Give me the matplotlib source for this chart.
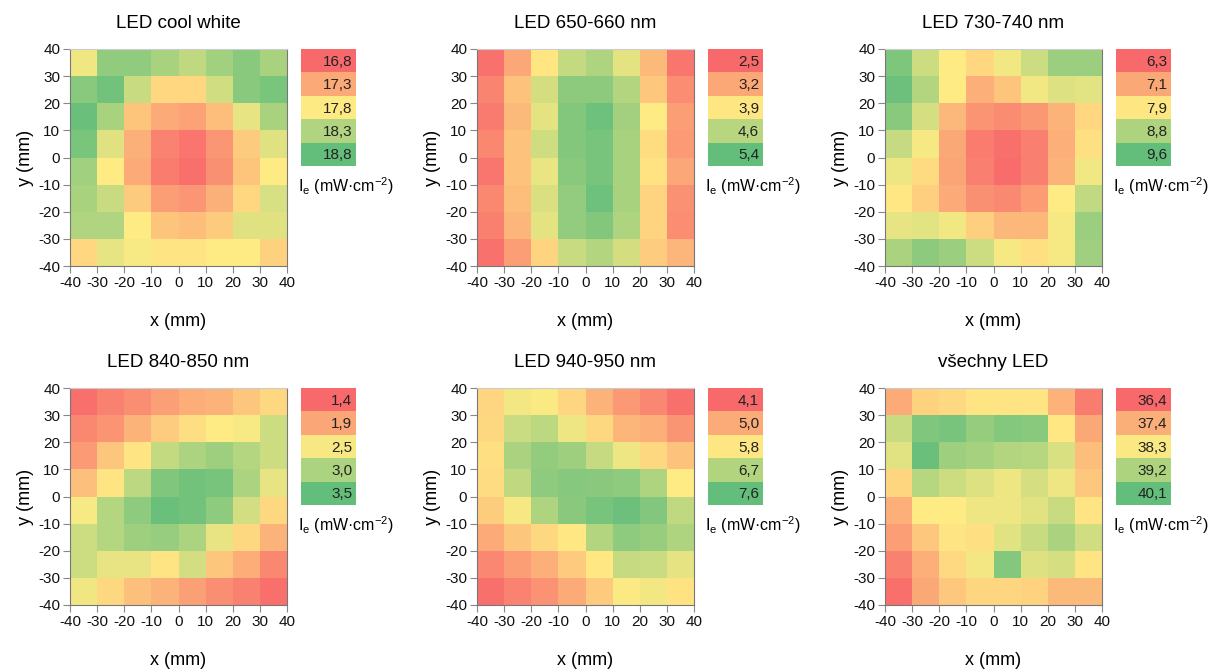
import numpy as np
import matplotlib.pyplot as plt
from matplotlib.colors import LinearSegmentedColormap, Normalize

plt.rcParams['font.family'] = ['Liberation Sans', 'DejaVu Sans']
plt.rcParams['mathtext.fontset'] = 'custom'
plt.rcParams['mathtext.rm'] = 'Liberation Sans'
plt.rcParams['mathtext.default'] = 'regular'
plt.rcParams['axes.unicode_minus'] = False

# cell edges (mm) and tick positions
edges = np.arange(-40, 41, 10)
ticks = np.arange(-40, 41, 10)

titles = ['LED cool white', 'LED 650-660 nm', 'LED 730-740 nm',
          'LED 840-850 nm', 'LED 940-950 nm', 'všechny LED']

# irradiance maps, rows from y = 40 (top) down to y = -40, columns x = -40 .. 40
cool_white = [
    [17.90, 18.50, 18.50, 18.35, 18.20, 18.40, 18.55, 18.35],
    [18.55, 18.70, 18.15, 17.65, 17.65, 18.10, 18.55, 18.65],
    [18.75, 18.35, 17.50, 17.30, 17.25, 17.45, 17.95, 18.35],
    [18.65, 18.00, 17.35, 17.00, 16.90, 17.15, 17.55, 18.00],
    [18.40, 17.80, 17.30, 16.95, 16.85, 17.10, 17.50, 17.80],
    [18.35, 18.15, 17.55, 17.20, 17.15, 17.35, 17.65, 18.05],
    [18.30, 18.30, 17.80, 17.50, 17.45, 17.55, 18.00, 18.00],
    [17.65, 17.95, 17.85, 17.75, 17.75, 17.80, 17.80, 17.60],
]
red_650 = [
    [2.60, 3.20, 3.90, 4.50, 4.70, 4.20, 3.40, 2.65],
    [2.80, 3.50, 4.35, 5.00, 5.00, 4.65, 3.55, 2.90],
    [2.70, 3.40, 4.20, 5.10, 5.30, 4.80, 3.95, 3.10],
    [2.85, 3.50, 4.40, 5.10, 5.20, 4.75, 3.80, 3.05],
    [2.65, 3.50, 4.15, 5.05, 5.20, 4.75, 3.85, 3.20],
    [2.85, 3.45, 4.30, 4.95, 5.30, 4.75, 3.70, 2.95],
    [2.75, 3.35, 4.20, 4.95, 5.10, 4.70, 3.70, 2.90],
    [2.60, 3.10, 3.70, 4.45, 4.65, 4.35, 3.60, 3.35],
]
far_red_730 = [
    [9.30, 8.50, 7.95, 7.70, 8.10, 8.50, 9.00, 9.00],
    [9.50, 8.75, 7.95, 7.20, 7.45, 8.10, 8.30, 8.25],
    [9.20, 8.40, 7.30, 6.85, 6.75, 6.90, 7.25, 7.70],
    [8.55, 8.05, 7.10, 6.55, 6.40, 6.60, 7.20, 7.80],
    [8.15, 7.75, 7.05, 6.60, 6.35, 6.60, 7.25, 8.10],
    [7.90, 7.60, 7.15, 6.80, 6.70, 6.95, 7.95, 8.60],
    [8.20, 8.25, 8.10, 7.60, 7.30, 7.30, 8.05, 9.00],
    [8.85, 9.15, 9.00, 8.50, 8.05, 7.80, 8.05, 8.95],
]
ir_840 = [
    [1.45, 1.60, 1.70, 1.85, 1.95, 2.00, 2.15, 2.30],
    [1.65, 1.75, 2.00, 2.20, 2.35, 2.45, 2.50, 2.80],
    [1.80, 2.15, 2.40, 2.85, 3.00, 3.10, 2.95, 2.80],
    [2.10, 2.40, 2.90, 3.30, 3.40, 3.35, 3.00, 2.60],
    [2.50, 2.95, 3.20, 3.45, 3.40, 3.20, 2.75, 2.30],
    [2.80, 2.95, 3.10, 3.15, 3.00, 2.60, 2.30, 2.00],
    [2.80, 2.60, 2.60, 2.40, 2.75, 2.15, 1.95, 1.65],
    [2.55, 2.30, 2.10, 2.00, 1.85, 1.70, 1.60, 1.45],
]
ir_940 = [
    [5.55, 6.00, 5.90, 5.55, 5.10, 4.75, 4.50, 4.20],
    [5.60, 6.45, 6.60, 6.05, 5.60, 5.15, 5.05, 4.70],
    [5.70, 6.80, 7.05, 6.95, 6.50, 6.05, 5.60, 5.30],
    [5.65, 6.55, 7.10, 7.20, 7.15, 7.10, 6.75, 5.85],
    [5.45, 5.95, 6.75, 7.15, 7.35, 7.50, 7.25, 6.55],
    [5.00, 5.35, 5.60, 5.80, 6.70, 7.10, 7.00, 6.75],
    [4.50, 4.80, 5.05, 5.40, 5.80, 6.50, 6.45, 6.15],
    [4.20, 4.45, 4.65, 5.00, 5.40, 5.90, 6.00, 5.75],
]
all_leds = [
    [37.35, 37.90, 38.00, 38.15, 38.15, 38.15, 37.45, 36.70],
    [38.90, 39.75, 39.85, 39.50, 39.70, 39.65, 38.20, 37.30],
    [38.60, 40.00, 39.40, 39.30, 39.15, 39.10, 38.70, 37.60],
    [37.95, 39.10, 38.85, 38.65, 38.45, 38.75, 38.45, 37.75],
    [37.40, 38.25, 38.25, 38.45, 38.45, 38.60, 38.90, 38.15],
    [37.15, 37.75, 38.15, 38.10, 38.60, 38.90, 39.25, 38.80],
    [36.75, 37.40, 38.00, 38.40, 39.70, 38.65, 38.75, 38.15],
    [36.50, 37.30, 37.75, 37.95, 37.95, 37.90, 37.55, 37.55],
]

# legend steps of each map (mW/cm2)
levels_cool_white = [16.8, 17.3, 17.8, 18.3, 18.8]
levels_650 = [2.5, 3.2, 3.9, 4.6, 5.4]
levels_730 = [6.3, 7.1, 7.9, 8.8, 9.6]
levels_840 = [1.4, 1.9, 2.5, 3.0, 3.5]
levels_940 = [4.1, 5.0, 5.8, 6.7, 7.6]
levels_all = [36.4, 37.4, 38.3, 39.2, 40.1]

maps = [cool_white, red_650, far_red_730, ir_840, ir_940, all_leds]
levels = [levels_cool_white, levels_650, levels_730, levels_840, levels_940, levels_all]

cmap = LinearSegmentedColormap.from_list('ryg', ['#F8696B', '#FFEB84', '#63BE7B'])

W, H = 1210, 670
fig = plt.figure(figsize=(W / 100, H / 100), dpi=100)

col_left = [70, 477, 885]
row_top = [49, 388]
size = 217

for i in range(6):
    r, c = divmod(i, 3)
    x0, y0 = col_left[c], row_top[r]
    ax = fig.add_axes([x0 / W, 1 - (y0 + size) / H, size / W, size / H])
    lv = levels[i]
    norm = Normalize(vmin=lv[0], vmax=lv[-1])
    Z = np.flipud(np.array(maps[i]))
    ax.pcolormesh(edges, edges, Z, cmap=cmap, norm=norm)
    ax.set_xlim(-40, 40)
    ax.set_ylim(-40, 40)
    ax.set_xticks(ticks)
    ax.set_yticks(ticks)
    ax.tick_params(direction='out', length=5, width=0.8, color='#888888',
                   labelsize=11, labelcolor='#111111', pad=2)
    for s in ['left', 'bottom', 'right']:
        ax.spines[s].set_color('#777777')
        ax.spines[s].set_linewidth(0.8)
    ax.spines['top'].set_color('#cccccc')
    ax.spines['top'].set_linewidth(0.8)
    ax.set_title(titles[i], fontsize=13.5, pad=15)
    ax.set_xlabel('x (mm)', fontsize=13, labelpad=17)
    ax.set_ylabel('y (mm)', fontsize=13, labelpad=3)

    # stepped legend next to the map
    lx = x0 + size + 14
    lh = 117
    lax = fig.add_axes([lx / W, 1 - (y0 + lh) / H, 55 / W, lh / H])
    lax.imshow(np.array(lv).reshape(-1, 1), cmap=cmap, norm=norm,
               aspect='auto', extent=(0, 1, len(lv), 0))
    for k, v in enumerate(lv):
        lax.text(0.93, k + 0.55, f'{v:.1f}'.replace('.', ','), ha='right',
                 va='center', fontsize=11, color='#222222')
    lax.set_xlim(0, 1)
    lax.set_ylim(len(lv), 0)
    lax.axis('off')
    fig.text((lx - 3) / W, 1 - (y0 + 137) / H,
             r'I$_e$ (mW·cm$^{-2}$)', fontsize=11.5, ha='left', va='center')

fig.savefig('out.png', dpi=100)
